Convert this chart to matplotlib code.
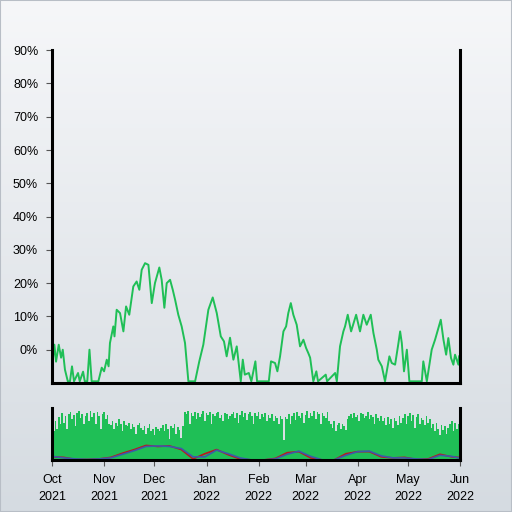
import datetime as dt

import matplotlib

matplotlib.use("Agg")
import matplotlib.dates as mdates
import matplotlib.pyplot as plt
import numpy as np

START = dt.date(2021, 10, 1)
END = dt.date(2022, 6, 1)

# main series: (days since 1 Oct 2021, percent)
line_days = [0, 1.4, 2.4, 4.0, 5.4, 6.4, 7.7, 9.4, 10.7, 11.9, 13.1, 15.5, 16.5, 18.5, 19.5,
             21.0, 22.3, 23.6, 27.6, 29.6, 31.0, 32.6, 33.7, 34.5, 36.5, 37.2, 38.5, 40.5,
             42.5, 44.1, 46.0, 48.4, 50.4, 52.0, 53.4, 55.4, 57.4, 59.4, 61.3, 63.9, 65.3,
             66.9, 68.3, 70.3, 71.9, 73.3, 75.2, 77.2, 79.2, 81.2, 85.2, 87.7, 90.1, 93.1,
             95.7, 98.1, 100.5, 102.4, 104.0, 106.0, 108.0, 110.0, 112.4, 113.6, 114.8,
             117.2, 118.7, 121.1, 122.1, 129.1, 130.4, 132.8, 134.2, 135.8, 137.8, 139.4,
             140.7, 142.2, 143.7, 145.7, 147.7, 149.7, 151.3, 152.6, 153.7, 155.6, 157.4,
             158.4, 163.0, 163.8, 168.6, 169.6, 171.5, 173.5, 174.5, 176.1, 178.1, 181.1,
             183.4, 185.4, 187.4, 189.8, 191.4, 193.4, 194.3, 196.4, 198.3, 200.9, 202.3,
             204.3, 206.3, 207.3, 208.3, 209.6, 211.3, 212.8, 220.2, 221.1, 223.2, 226.1,
             228.1, 230.1, 231.5, 233.1, 234.7, 236.0, 237.6, 239.0, 240.0, 241.0, 242.0, 242.4]
line_vals = [-5.4, 1.5, -3.6, 1.5, -2.4, 0.0, -6.0, -9.5, -9.5, -5.0, -9.5, -7.0, -9.5, -6.6, -9.5,
             -9.5, 0.0, -9.5, -9.5, -5.4, -6.5, -3.0, -5.0, 2.0, 7.0, 4.0, 12.0, 11.0,
             5.5, 13.0, 10.5, 19.0, 20.5, 18.0, 24.0, 26.0, 25.5, 14.0, 20.0, 24.7, 21.0,
             12.6, 20.0, 21.0, 18.0, 15.0, 10.5, 7.0, 2.0, -9.5, -9.5, -3.5, 1.5, 12.0,
             15.7, 11.0, 4.0, 2.5, -2.0, 3.6, -3.0, 1.0, -9.5, -3.0, -7.5,
             -7.0, -9.5, -3.5, -9.5, -9.5, -3.5, -4.0, -6.5, -2.0, 5.5, 7.0,
             11.0, 14.0, 10.5, 7.5, 1.0, 3.0, 0.5, -1.0, -2.4, -9.5, -6.5,
             -9.5, -7.5, -9.5, -7.0, -9.5, 1.0, 5.5, 7.0, 10.5, 5.5, 10.5,
             5.5, 10.5, 7.5, 10.5, 5.0, 0.0, -3.0, -5.0, -9.5, -2.0, -4.0,
             -4.5, 2.0, 5.5, 2.0, -6.5, 0.0, -9.5, -9.5, -3.5, -9.5, 0.0,
             3.0, 6.5, 9.0, 3.0, -1.5, 3.5, -2.5, -4.5, -1.5, -3.0, -4.5, -2.0]

# daily volume bars (relative height)
bar_vals = [0.8, 0.55, 0.75, 0.6, 0.82, 0.7,
            0.9, 0.72, 0.85, 0.6, 0.88, 0.92, 0.78, 0.86, 0.65, 0.9, 0.94, 0.8, 0.88, 0.7, 0.85, 0.9, 0.75,
            0.95, 0.82, 0.9, 0.7, 0.93, 0.85, 0.6, 0.88, 0.92, 0.78, 0.86, 0.7,
            0.68, 0.75, 0.6, 0.72, 0.65, 0.78, 0.7, 0.55, 0.74, 0.68,
            0.66, 0.72, 0.6, 0.7, 0.64, 0.5, 0.68, 0.72, 0.62,
            0.58, 0.65, 0.5, 0.62, 0.7, 0.55, 0.6, 0.48, 0.64, 0.6, 0.55,
            0.62, 0.68, 0.55, 0.7, 0.6, 0.4, 0.66, 0.62, 0.7, 0.5, 0.64, 0.58, 0.42, 0.66,
            0.92, 0.88, 0.95, 0.7, 0.9, 0.85, 0.93, 0.78, 0.9, 0.82, 0.88, 0.95, 0.75, 0.9,
            0.86, 0.92, 0.7, 0.88, 0.84, 0.9, 0.93, 0.8, 0.86, 0.74, 0.9, 0.88, 0.78, 0.85,
            0.88, 0.92, 0.8, 0.9, 0.72, 0.86, 0.94, 0.82, 0.9, 0.76, 0.88, 0.93, 0.85, 0.7, 0.9, 0.84,
            0.92, 0.78, 0.88, 0.82, 0.9, 0.75, 0.86, 0.8, 0.88, 0.74, 0.84, 0.8, 0.7, 0.85, 0.78, 0.38,
            0.82, 0.78, 0.88, 0.7, 0.85, 0.9, 0.76, 0.92, 0.84, 0.8, 0.9, 0.72, 0.86, 0.94, 0.8,
            0.9, 0.85, 0.95, 0.78, 0.92, 0.88, 0.7, 0.9, 0.84, 0.8, 0.92, 0.75,
            0.7, 0.62, 0.75, 0.55, 0.68, 0.72, 0.6, 0.7, 0.66, 0.58,
            0.78, 0.85, 0.88, 0.8, 0.9, 0.82, 0.86, 0.75, 0.9, 0.88, 0.8, 0.85, 0.92, 0.78, 0.86,
            0.82, 0.7, 0.88, 0.8, 0.75, 0.84,
            0.75, 0.8, 0.68, 0.82, 0.7, 0.78, 0.62, 0.8, 0.74, 0.68, 0.85, 0.72,
            0.8, 0.88, 0.7, 0.84, 0.9, 0.75, 0.86, 0.62, 0.82, 0.88, 0.7, 0.8, 0.76, 0.68, 0.84, 0.72, 0.78,
            0.62, 0.7, 0.55, 0.72, 0.6, 0.48, 0.68, 0.58, 0.66, 0.5, 0.62,
            0.7, 0.74, 0.55, 0.72, 0.6, 0.7]

# smoothed overlays in the lower panel (weekly)
smooth_days = [0, 7, 14, 21, 28, 35, 42, 49, 56, 63, 70, 77, 84, 91, 98, 105, 112, 119, 126,
               133, 140, 147, 154, 161, 168, 175, 182, 189, 196, 203, 210, 217, 224, 231, 238, 242]
red_vals = [0.06, 0.05, 0.01, 0.01, 0.02, 0.05, 0.13, 0.2, 0.28, 0.26, 0.27, 0.2, 0.02, 0.12,
            0.2, 0.1, 0.02, 0.0, 0.0, 0.03, 0.14, 0.16, 0.04, 0.0, 0.0, 0.12, 0.16, 0.16, 0.06,
            0.04, 0.05, 0.01, 0.02, 0.11, 0.06, 0.05]
blue_vals = [0.07, 0.04, 0.02, 0.01, 0.02, 0.04, 0.11, 0.18, 0.26, 0.27, 0.26, 0.22, 0.06, 0.06,
             0.19, 0.12, 0.04, 0.0, 0.0, 0.02, 0.11, 0.17, 0.07, 0.0, 0.0, 0.09, 0.16, 0.17, 0.08,
             0.04, 0.04, 0.02, 0.01, 0.09, 0.07, 0.04]

GREEN = "#1fbf56"
plt.rcParams["font.family"] = ["Liberation Sans", "DejaVu Sans"]

base = mdates.date2num(START)
x_line = base + np.array(line_days)
x_bar = base + np.arange(len(bar_vals))
x_smooth = base + np.array(smooth_days)

fig = plt.figure(figsize=(5.12, 5.12), dpi=100)

# soft vertical gradient background
bg = fig.add_axes([0, 0, 1, 1], zorder=-10)
grad = np.linspace(0, 1, 256)[:, None]
top_c = np.array([246, 247, 249]) / 255
bot_c = np.array([213, 219, 225]) / 255
img = top_c[None, None, :] * (1 - grad[..., None]) + bot_c[None, None, :] * grad[..., None]
bg.imshow(np.repeat(img, 2, axis=1), aspect="auto", extent=[0, 1, 0, 1])
bg.add_patch(plt.Rectangle((0, 0), 1, 1, fill=False, edgecolor="#b8bec6", lw=1.5))
bg.set_axis_off()

ax = fig.add_axes([0.1016, 0.252, 0.797, 0.650])
ax.patch.set_alpha(0)
ax.plot(x_line, line_vals, color=GREEN, lw=1.4)
ax.set_xlim(base, mdates.date2num(END))
ax.set_ylim(-10, 90)
ax.set_yticks(range(0, 91, 10))
ax.set_yticklabels([f"{v}%" for v in range(0, 91, 10)], fontsize=9)
ax.set_xticks([])
ax.spines["top"].set_visible(False)
for s in ("left", "right", "bottom"):
    ax.spines[s].set_linewidth(2.2)
ax.tick_params(axis="y", length=4, width=0.8, color="#555555", pad=6)

ax2 = fig.add_axes([0.1016, 0.1016, 0.797, 0.1016])
ax2.patch.set_alpha(0)
ax2.bar(x_bar, bar_vals, width=1.0, color=GREEN, edgecolor="none", antialiased=False)
ax2.plot(x_smooth, red_vals, color="#c0151b", lw=1.2)
ax2.plot(x_smooth, blue_vals, color="#3b5ba8", lw=1.2)
ax2.set_xlim(base, mdates.date2num(END))
ax2.set_ylim(0, 1)
ax2.set_yticks([])
ax2.xaxis.set_major_locator(mdates.MonthLocator())
ax2.xaxis.set_major_formatter(mdates.DateFormatter("%b\n%Y"))
ax2.tick_params(axis="x", length=4, width=0.8, color="#555555", labelsize=9, pad=6)
ax2.spines["top"].set_visible(False)
for s in ("left", "right", "bottom"):
    ax2.spines[s].set_linewidth(2.2)
for lbl in ax2.get_xticklabels():
    lbl.set_linespacing(1.6)

fig.savefig("out.png", dpi=100)
